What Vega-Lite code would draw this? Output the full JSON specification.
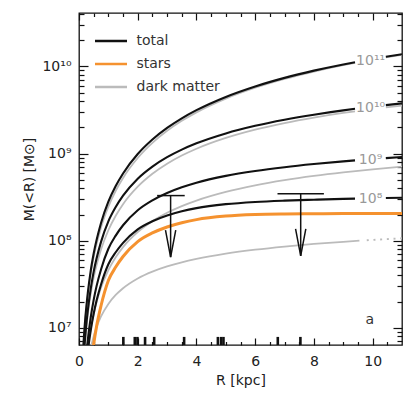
{
  "$schema": "https://vega.github.io/schema/vega-lite/v6.json",
  "width": 323,
  "height": 332,
  "autosize": "none",
  "padding": {"left": 79, "top": 13, "right": 13, "bottom": 54},
  "config": {
    "view": {"stroke": "#111111", "strokeWidth": 1.3},
    "font": "DejaVu Sans",
    "axis": {"grid": false, "domain": false, "labelFont": "DejaVu Sans", "titleFont": "DejaVu Sans", "labelColor": "#222222", "titleColor": "#222222", "tickColor": "#111111", "tickWidth": 1.2},
    "legend": {"orient": "none", "legendX": 22.5, "legendY": 18.5, "symbolType": "M-2,0H2", "symbolSize": 256, "symbolStrokeWidth": 2.5, "labelFontSize": 14, "labelColor": "#333333", "labelFont": "DejaVu Sans", "labelOffset": 16, "rowPadding": 6}
  },
  "datasets": {
    "dm": [
      {"R": 0.1, "M": 2.71e6, "seg": "A1"}, {"R": 0.15, "M": 6.06e6, "seg": "A1"}, {"R": 0.2, "M": 1.07e7, "seg": "A1"}, {"R": 0.3, "M": 2.38e7, "seg": "A1"}, {"R": 0.4, "M": 4.2e7, "seg": "A1"}, {"R": 0.5, "M": 6.49e7, "seg": "A1"}, {"R": 0.75, "M": 1.42e8, "seg": "A1"}, {"R": 1, "M": 2.46e8, "seg": "A1"}, {"R": 1.25, "M": 3.749e8, "seg": "A1"}, {"R": 1.5, "M": 5.26e8, "seg": "A1"}, {"R": 2, "M": 8.91e8, "seg": "A1"}, {"R": 2.5, "M": 1.328e9, "seg": "A1"}, {"R": 3, "M": 1.826e9, "seg": "A1"}, {"R": 3.5, "M": 2.377e9, "seg": "A1"}, {"R": 4, "M": 2.973e9, "seg": "A1"}, {"R": 5, "M": 4.276e9, "seg": "A1"}, {"R": 6, "M": 5.691e9, "seg": "A1"}, {"R": 7, "M": 7.189e9, "seg": "A1"}, {"R": 8, "M": 8.744e9, "seg": "A1"}, {"R": 9, "M": 1.0339e10, "seg": "A1"}, {"R": 9.4, "M": 1.0985e10, "seg": "A1"},
      {"R": 10.45, "M": 1.2695e10, "seg": "A2"}, {"R": 11, "M": 1.3597e10, "seg": "A2"},
      {"R": 0.1, "M": 1.7e6, "seg": "B1"}, {"R": 0.15, "M": 3.76e6, "seg": "B1"}, {"R": 0.2, "M": 6.59e6, "seg": "B1"}, {"R": 0.25, "M": 1.014e7, "seg": "B1"}, {"R": 0.3, "M": 1.439e7, "seg": "B1"}, {"R": 0.4, "M": 2.485e7, "seg": "B1"}, {"R": 0.5, "M": 3.775e7, "seg": "B1"}, {"R": 0.75, "M": 7.93e7, "seg": "B1"}, {"R": 1, "M": 1.321e8, "seg": "B1"}, {"R": 1.25, "M": 1.938e8, "seg": "B1"}, {"R": 1.5, "M": 2.628e8, "seg": "B1"}, {"R": 2, "M": 4.172e8, "seg": "B1"}, {"R": 2.5, "M": 5.866e8, "seg": "B1"}, {"R": 3, "M": 7.654e8, "seg": "B1"}, {"R": 3.5, "M": 9.497e8, "seg": "B1"}, {"R": 4, "M": 1.1369e9, "seg": "B1"}, {"R": 5, "M": 1.5125e9, "seg": "B1"}, {"R": 6, "M": 1.8828e9, "seg": "B1"}, {"R": 7, "M": 2.2433e9, "seg": "B1"}, {"R": 8, "M": 2.5917e9, "seg": "B1"}, {"R": 9, "M": 2.9274e9, "seg": "B1"}, {"R": 9.4, "M": 3.0581e9, "seg": "B1"},
      {"R": 10.45, "M": 3.3913e9, "seg": "B2"}, {"R": 11, "M": 3.5603e9, "seg": "B2"},
      {"R": 0.1, "M": 7.2e5, "seg": "C"}, {"R": 0.2, "M": 2.72e6, "seg": "C"}, {"R": 0.3, "M": 5.79e6, "seg": "C"}, {"R": 0.4, "M": 9.77e6, "seg": "C"}, {"R": 0.5, "M": 1.451e7, "seg": "C"}, {"R": 0.6, "M": 1.989e7, "seg": "C"}, {"R": 0.75, "M": 2.894e7, "seg": "C"}, {"R": 1, "M": 4.603e7, "seg": "C"}, {"R": 1.25, "M": 6.482e7, "seg": "C"}, {"R": 1.5, "M": 8.471e7, "seg": "C"}, {"R": 2, "M": 1.2612e8, "seg": "C"}, {"R": 2.5, "M": 1.6812e8, "seg": "C"}, {"R": 3, "M": 2.0963e8, "seg": "C"}, {"R": 3.5, "M": 2.501e8, "seg": "C"}, {"R": 4, "M": 2.8929e8, "seg": "C"}, {"R": 5, "M": 3.6347e8, "seg": "C"}, {"R": 6, "M": 4.3214e8, "seg": "C"}, {"R": 7, "M": 4.9571e8, "seg": "C"}, {"R": 8, "M": 5.5472e8, "seg": "C"}, {"R": 9, "M": 6.0968e8, "seg": "C"}, {"R": 10, "M": 6.6105e8, "seg": "C"}, {"R": 11, "M": 7.0924e8, "seg": "C"},
      {"R": 0.2, "M": 2.0e6, "seg": "D"}, {"R": 0.3, "M": 3.83e6, "seg": "D"}, {"R": 0.4, "M": 5.88e6, "seg": "D"}, {"R": 0.5, "M": 8.05e6, "seg": "D"}, {"R": 0.6, "M": 1.026e7, "seg": "D"}, {"R": 0.75, "M": 1.356e7, "seg": "D"}, {"R": 1, "M": 1.889e7, "seg": "D"}, {"R": 1.25, "M": 2.391e7, "seg": "D"}, {"R": 1.5, "M": 2.859e7, "seg": "D"}, {"R": 2, "M": 3.702e7, "seg": "D"}, {"R": 2.5, "M": 4.438e7, "seg": "D"}, {"R": 3, "M": 5.089e7, "seg": "D"}, {"R": 3.5, "M": 5.672e7, "seg": "D"}, {"R": 4, "M": 6.199e7, "seg": "D"}, {"R": 5, "M": 7.119e7, "seg": "D"}, {"R": 6, "M": 7.906e7, "seg": "D"}, {"R": 7, "M": 8.591e7, "seg": "D"}, {"R": 8, "M": 9.199e7, "seg": "D"}, {"R": 9, "M": 9.744e7, "seg": "D"}, {"R": 9.55, "M": 1.0022e8, "seg": "D"}
    ],
    "dmdot": [
      {"R": 9.8, "M": 1.0144e8}, {"R": 11, "M": 1.0692e8}
    ],
    "stars": [
      {"R": 0.2, "M": 4.6e5}, {"R": 0.3, "M": 1.5e6}, {"R": 0.4, "M": 3.5e6}, {"R": 0.5, "M": 6.5e6}, {"R": 0.6, "M": 1.05e7}, {"R": 0.75, "M": 1.8e7}, {"R": 1, "M": 3.5e7}, {"R": 1.25, "M": 5.0e7}, {"R": 1.5, "M": 6.6e7}, {"R": 2, "M": 9.8e7}, {"R": 2.5, "M": 1.23e8}, {"R": 3, "M": 1.44e8}, {"R": 3.5, "M": 1.61e8}, {"R": 4, "M": 1.75e8}, {"R": 5, "M": 1.92e8}, {"R": 6, "M": 2.0e8}, {"R": 7, "M": 2.03e8}, {"R": 8, "M": 2.04e8}, {"R": 9, "M": 2.05e8}, {"R": 10, "M": 2.05e8}, {"R": 11, "M": 2.05e8}
    ],
    "total": [
      {"R": 0.1, "M": 2.77e6, "seg": "A1"}, {"R": 0.15, "M": 6.26e6, "seg": "A1"}, {"R": 0.2, "M": 1.12e7, "seg": "A1"}, {"R": 0.3, "M": 2.53e7, "seg": "A1"}, {"R": 0.4, "M": 4.55e7, "seg": "A1"}, {"R": 0.5, "M": 7.14e7, "seg": "A1"}, {"R": 0.75, "M": 1.6e8, "seg": "A1"}, {"R": 1, "M": 2.81e8, "seg": "A1"}, {"R": 1.25, "M": 4.25e8, "seg": "A1"}, {"R": 1.5, "M": 5.92e8, "seg": "A1"}, {"R": 2, "M": 9.89e8, "seg": "A1"}, {"R": 2.5, "M": 1.451e9, "seg": "A1"}, {"R": 3, "M": 1.97e9, "seg": "A1"}, {"R": 3.5, "M": 2.538e9, "seg": "A1"}, {"R": 4, "M": 3.148e9, "seg": "A1"}, {"R": 5, "M": 4.468e9, "seg": "A1"}, {"R": 6, "M": 5.891e9, "seg": "A1"}, {"R": 7, "M": 7.392e9, "seg": "A1"}, {"R": 8, "M": 8.948e9, "seg": "A1"}, {"R": 9, "M": 1.0544e10, "seg": "A1"}, {"R": 9.4, "M": 1.119e10, "seg": "A1"},
      {"R": 10.45, "M": 1.29e10, "seg": "A2"}, {"R": 11, "M": 1.3802e10, "seg": "A2"},
      {"R": 0.1, "M": 1.76e6, "seg": "B1"}, {"R": 0.15, "M": 3.96e6, "seg": "B1"}, {"R": 0.2, "M": 7.05e6, "seg": "B1"}, {"R": 0.25, "M": 1.104e7, "seg": "B1"}, {"R": 0.3, "M": 1.589e7, "seg": "B1"}, {"R": 0.4, "M": 2.835e7, "seg": "B1"}, {"R": 0.5, "M": 4.425e7, "seg": "B1"}, {"R": 0.75, "M": 9.73e7, "seg": "B1"}, {"R": 1, "M": 1.671e8, "seg": "B1"}, {"R": 1.25, "M": 2.438e8, "seg": "B1"}, {"R": 1.5, "M": 3.288e8, "seg": "B1"}, {"R": 2, "M": 5.152e8, "seg": "B1"}, {"R": 2.5, "M": 7.096e8, "seg": "B1"}, {"R": 3, "M": 9.094e8, "seg": "B1"}, {"R": 3.5, "M": 1.1107e9, "seg": "B1"}, {"R": 4, "M": 1.3119e9, "seg": "B1"}, {"R": 5, "M": 1.7045e9, "seg": "B1"}, {"R": 6, "M": 2.0828e9, "seg": "B1"}, {"R": 7, "M": 2.4463e9, "seg": "B1"}, {"R": 8, "M": 2.7957e9, "seg": "B1"}, {"R": 9, "M": 3.1324e9, "seg": "B1"}, {"R": 9.4, "M": 3.2631e9, "seg": "B1"},
      {"R": 10.45, "M": 3.5963e9, "seg": "B2"}, {"R": 11, "M": 3.7653e9, "seg": "B2"},
      {"R": 0.1, "M": 7.8e5, "seg": "C1"}, {"R": 0.2, "M": 3.18e6, "seg": "C1"}, {"R": 0.3, "M": 7.29e6, "seg": "C1"}, {"R": 0.4, "M": 1.327e7, "seg": "C1"}, {"R": 0.5, "M": 2.101e7, "seg": "C1"}, {"R": 0.6, "M": 3.04e7, "seg": "C1"}, {"R": 0.75, "M": 4.694e7, "seg": "C1"}, {"R": 1, "M": 8.103e7, "seg": "C1"}, {"R": 1.25, "M": 1.148e8, "seg": "C1"}, {"R": 1.5, "M": 1.5071e8, "seg": "C1"}, {"R": 2, "M": 2.2412e8, "seg": "C1"}, {"R": 2.5, "M": 2.9112e8, "seg": "C1"}, {"R": 3, "M": 3.5363e8, "seg": "C1"}, {"R": 3.5, "M": 4.111e8, "seg": "C1"}, {"R": 4, "M": 4.6429e8, "seg": "C1"}, {"R": 5, "M": 5.5547e8, "seg": "C1"}, {"R": 6, "M": 6.3214e8, "seg": "C1"}, {"R": 7, "M": 6.9871e8, "seg": "C1"}, {"R": 8, "M": 7.5872e8, "seg": "C1"}, {"R": 9, "M": 8.1468e8, "seg": "C1"}, {"R": 9.4, "M": 8.3563e8, "seg": "C1"},
      {"R": 10.45, "M": 8.881e8, "seg": "C2"}, {"R": 11, "M": 9.1424e8, "seg": "C2"},
      {"R": 0.2, "M": 2.46e6, "seg": "D1"}, {"R": 0.3, "M": 5.33e6, "seg": "D1"}, {"R": 0.4, "M": 9.38e6, "seg": "D1"}, {"R": 0.5, "M": 1.455e7, "seg": "D1"}, {"R": 0.6, "M": 2.076e7, "seg": "D1"}, {"R": 0.75, "M": 3.156e7, "seg": "D1"}, {"R": 1, "M": 5.389e7, "seg": "D1"}, {"R": 1.25, "M": 7.39e7, "seg": "D1"}, {"R": 1.5, "M": 9.459e7, "seg": "D1"}, {"R": 2, "M": 1.3502e8, "seg": "D1"}, {"R": 2.5, "M": 1.6738e8, "seg": "D1"}, {"R": 3, "M": 1.9489e8, "seg": "D1"}, {"R": 3.5, "M": 2.1772e8, "seg": "D1"}, {"R": 4, "M": 2.3699e8, "seg": "D1"}, {"R": 5, "M": 2.6319e8, "seg": "D1"}, {"R": 6, "M": 2.7906e8, "seg": "D1"}, {"R": 7, "M": 2.8891e8, "seg": "D1"}, {"R": 8, "M": 2.9599e8, "seg": "D1"}, {"R": 9, "M": 3.0244e8, "seg": "D1"}, {"R": 9.4, "M": 3.0448e8, "seg": "D1"},
      {"R": 10.45, "M": 3.0948e8, "seg": "D2"}, {"R": 11, "M": 3.1192e8, "seg": "D2"}
    ],
    "bars": [
      {"R": 2.66, "R2": 3.6, "M": 3.3e8},
      {"R": 6.76, "R2": 8.34, "M": 3.47e8}
    ],
    "shafts": [
      {"R": 3.12, "M": 3.3e8, "M2": 6.5e7},
      {"R": 7.55, "M": 3.47e8, "M2": 6.7e7}
    ],
    "rug": [
      {"R": 1.51, "M": 6.38e6, "M2": 7.9e6}, {"R": 1.9, "M": 6.38e6, "M2": 7.9e6}, {"R": 1.99, "M": 6.38e6, "M2": 7.9e6}, {"R": 2.25, "M": 6.38e6, "M2": 7.9e6}, {"R": 2.56, "M": 6.38e6, "M2": 7.9e6}, {"R": 3.58, "M": 6.38e6, "M2": 7.9e6}, {"R": 4.73, "M": 6.38e6, "M2": 7.9e6}, {"R": 4.84, "M": 6.38e6, "M2": 7.9e6}, {"R": 4.92, "M": 6.38e6, "M2": 7.9e6}, {"R": 6.77, "M": 6.38e6, "M2": 7.9e6}, {"R": 7.54, "M": 6.38e6, "M2": 7.9e6}
    ],
    "labels": [
      {"R": 9.93, "M": 1.2e10, "text": "10¹¹"},
      {"R": 9.93, "M": 3.43e9, "text": "10¹⁰"},
      {"R": 9.93, "M": 8.62e8, "text": "10⁹"},
      {"R": 9.93, "M": 3.07e8, "text": "10⁸"}
    ],
    "panel": [
      {"R": 9.9, "M": 1.23e7, "text": "a"}
    ]
  },
  "layer": [
    {
      "data": {"name": "dm"},
      "transform": [{"calculate": "'dark matter'", "as": "type"}],
      "mark": {"type": "line", "clip": true, "interpolate": "monotone", "strokeWidth": 1.8},
      "encoding": {
        "x": {"field": "R", "type": "quantitative", "scale": {"domain": [0, 11], "nice": false, "zero": false},
              "axis": {"orient": "bottom", "values": [0, 2, 4, 6, 8, 10], "ticks": false, "labelFlush": false, "labelPadding": 9, "labelFontSize": 14, "title": "R  [kpc]", "titleFontSize": 14, "titleFontWeight": "normal", "titlePadding": 5}},
        "y": {"field": "M", "type": "quantitative", "scale": {"type": "log", "domain": [6.38e6, 4.1e10], "nice": false, "zero": false},
              "axis": {"orient": "left", "values": [1e7, 1e8, 1e9, 1e10], "ticks": false, "labelFlush": false, "labelPadding": 8, "labelFontSize": 14, "labelExpr": "datum.value < 5e7 ? '10⁷' : datum.value < 5e8 ? '10⁸' : datum.value < 5e9 ? '10⁹' : '10¹⁰'", "title": "M(<R)  [M⊙]", "titleFontSize": 14, "titleFontWeight": "normal", "titlePadding": 5}},
        "color": {"field": "type", "type": "nominal", "scale": {"domain": ["total", "stars", "dark matter"], "range": ["#111111", "#F5922F", "#BBBBBB"]}, "legend": {"title": null}},
        "detail": {"field": "seg"}
      }
    },
    {
      "data": {"name": "stars"},
      "transform": [{"calculate": "'stars'", "as": "type"}],
      "mark": {"type": "line", "clip": true, "interpolate": "monotone", "strokeWidth": 3},
      "encoding": {
        "x": {"field": "R", "type": "quantitative", "axis": {"orient": "bottom", "values": [0, 2, 4, 6, 8, 10], "labels": false, "ticks": true, "tickSize": -7, "title": null}},
        "y": {"field": "M", "type": "quantitative", "axis": {"orient": "left", "values": [1e7, 1e8, 1e9, 1e10], "labels": false, "ticks": true, "tickSize": -9, "title": null}},
        "color": {"field": "type", "type": "nominal", "legend": {"title": null}}
      }
    },
    {
      "data": {"name": "total"},
      "transform": [{"calculate": "'total'", "as": "type"}],
      "mark": {"type": "line", "clip": true, "interpolate": "monotone", "strokeWidth": 2.1},
      "encoding": {
        "x": {"field": "R", "type": "quantitative", "axis": {"orient": "bottom", "values": [0.5, 1, 1.5, 2.5, 3, 3.5, 4.5, 5, 5.5, 6.5, 7, 7.5, 8.5, 9, 9.5, 10.5], "labels": false, "ticks": true, "tickSize": -3.5, "title": null}},
        "y": {"field": "M", "type": "quantitative", "axis": {"orient": "left", "values": [7e6, 8e6, 9e6, 2e7, 3e7, 4e7, 5e7, 6e7, 7e7, 8e7, 9e7, 2e8, 3e8, 4e8, 5e8, 6e8, 7e8, 8e8, 9e8, 2e9, 3e9, 4e9, 5e9, 6e9, 7e9, 8e9, 9e9, 2e10, 3e10, 4e10], "labels": false, "ticks": true, "tickSize": -5, "title": null}},
        "color": {"field": "type", "type": "nominal", "legend": {"title": null}},
        "detail": {"field": "seg"}
      }
    },
    {
      "data": {"name": "dmdot"},
      "mark": {"type": "line", "clip": true, "color": "#BBBBBB", "strokeWidth": 1.8, "strokeDash": [2, 4.7]},
      "encoding": {
        "x": {"field": "R", "type": "quantitative", "axis": {"orient": "top", "values": [0, 2, 4, 6, 8, 10], "labels": false, "ticks": true, "tickSize": -7, "title": null}},
        "y": {"field": "M", "type": "quantitative", "axis": {"orient": "right", "values": [1e7, 1e8, 1e9, 1e10], "labels": false, "ticks": true, "tickSize": -9, "title": null}}
      }
    },
    {
      "data": {"name": "bars"},
      "mark": {"type": "rule", "color": "#111111", "strokeWidth": 1.5},
      "encoding": {
        "x": {"field": "R", "type": "quantitative", "axis": {"orient": "top", "values": [0.5, 1, 1.5, 2.5, 3, 3.5, 4.5, 5, 5.5, 6.5, 7, 7.5, 8.5, 9, 9.5, 10.5], "labels": false, "ticks": true, "tickSize": -3.5, "title": null}},
        "x2": {"field": "R2"},
        "y": {"field": "M", "type": "quantitative", "axis": {"orient": "right", "values": [7e6, 8e6, 9e6, 2e7, 3e7, 4e7, 5e7, 6e7, 7e7, 8e7, 9e7, 2e8, 3e8, 4e8, 5e8, 6e8, 7e8, 8e8, 9e8, 2e9, 3e9, 4e9, 5e9, 6e9, 7e9, 8e9, 9e9, 2e10, 3e10, 4e10], "labels": false, "ticks": true, "tickSize": -5, "title": null}}
      }
    },
    {
      "data": {"name": "shafts"},
      "mark": {"type": "rule", "color": "#111111", "strokeWidth": 1.5},
      "encoding": {
        "x": {"field": "R", "type": "quantitative", "axis": null},
        "y": {"field": "M", "type": "quantitative", "axis": null},
        "y2": {"field": "M2"}
      }
    },
    {
      "data": {"name": "shafts"},
      "mark": {"type": "point", "shape": "M-0.38,-2L0,0L0.38,-2", "size": 729, "filled": false, "stroke": "#111111", "strokeWidth": 1.5, "opacity": 1},
      "encoding": {
        "x": {"field": "R", "type": "quantitative", "axis": null},
        "y": {"field": "M2", "type": "quantitative", "axis": null}
      }
    },
    {
      "data": {"name": "rug"},
      "mark": {"type": "rule", "color": "#111111", "strokeWidth": 2.6},
      "encoding": {
        "x": {"field": "R", "type": "quantitative", "axis": null},
        "y": {"field": "M", "type": "quantitative", "axis": null},
        "y2": {"field": "M2"}
      }
    },
    {
      "data": {"name": "labels"},
      "mark": {"type": "text", "font": "DejaVu Sans", "fontSize": 14, "color": "#999999", "align": "center", "baseline": "middle", "dy": 1},
      "encoding": {
        "x": {"field": "R", "type": "quantitative", "axis": null},
        "y": {"field": "M", "type": "quantitative", "axis": null},
        "text": {"field": "text"}
      }
    },
    {
      "data": {"name": "panel"},
      "mark": {"type": "text", "font": "DejaVu Sans", "fontSize": 14, "color": "#333333", "align": "center", "baseline": "middle"},
      "encoding": {
        "x": {"field": "R", "type": "quantitative", "axis": null},
        "y": {"field": "M", "type": "quantitative", "axis": null},
        "text": {"field": "text"}
      }
    }
  ],
  "resolve": {"axis": {"x": "independent", "y": "independent"}}
}
